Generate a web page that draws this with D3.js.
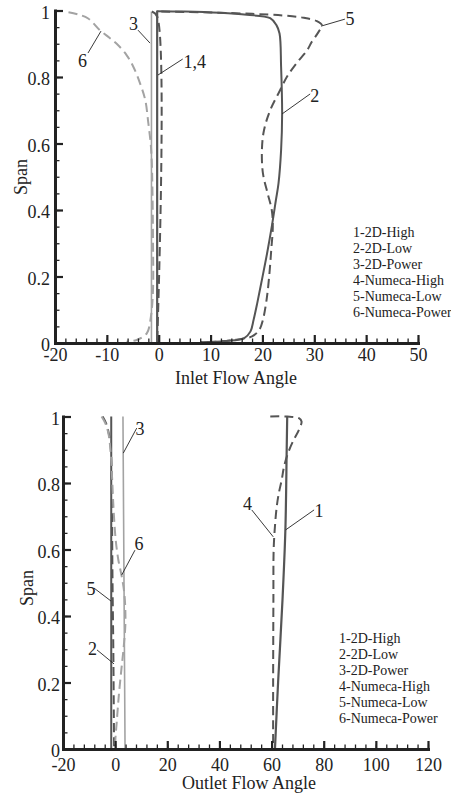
<!DOCTYPE html>
<html><head><meta charset="utf-8">
<script src="https://cdn.jsdelivr.net/npm/d3@7"></script>
<style>
body{margin:0;background:#fff}
svg{display:block}
text{font-family:"Liberation Serif","Times New Roman",serif;fill:#222}
</style>
</head><body>
<svg id="c" width="451" height="793"></svg>
<script>
// ---------- data ----------
const legendLabels = ["1-2D-High","2-2D-Low","3-2D-Power","4-Numeca-High","5-Numeca-Low","6-Numeca-Power"];
const spanTicks = [0,0.2,0.4,0.6,0.8,1];
const inletTicks = [-20,-10,0,10,20,30,40,50];
const outletTicks = [-20,0,20,40,60,80,100,120];
const inletTitle = "Inlet Flow Angle";
const outletTitle = "Outlet Flow Angle";
const spanTitle = "Span";

// Inlet flow angle [angle, span]
const in1 = [[-0.3,0],[-0.3,1.0]];
const in2 = [[-0.3,0.998],[5,0.997],[11.8,0.993],[17,0.987],[21.5,0.977],[22.7,0.956],[23.3,0.931],[23.6,0.831],[23.8,0.69],[23.6,0.58],[23.1,0.48],[22.6,0.43],[21.8,0.35],[20.9,0.27],[19.9,0.19],[19.0,0.12],[18.3,0.07],[17.7,0.035],[16.5,0.015],[13,0.006],[8,0.002]];
const in3 = [[-1.4,0],[-1.4,0.997]];
const in4 = [[-1.3,0.997],[-0.3,0.982],[-0.3,0]];
const in5 = [[0.5,0.997],[10,0.994],[18,0.99],[24,0.985],[28,0.978],[30.5,0.968],[31.5,0.955],[30.8,0.935],[29.5,0.905],[28.6,0.88],[26.5,0.84],[24.7,0.80],[23.4,0.76],[21.5,0.70],[20.3,0.64],[19.9,0.58],[20.1,0.51],[21,0.45],[21.8,0.40],[22,0.35],[21.7,0.28],[21.3,0.2],[20.8,0.13],[20.1,0.07],[19.4,0.04],[18,0.02],[15,0.01],[11,0.004],[8,0.002]];
const in6 = [[-17.4,0.995],[-15.5,0.988],[-13.6,0.976],[-11.3,0.94],[-9.5,0.918],[-8.1,0.90],[-6.2,0.866],[-4.9,0.831],[-3.6,0.781],[-2.6,0.731],[-2.0,0.661],[-1.55,0.60],[-1.35,0.55],[-1.2,0.45],[-1.1,0.3],[-1.1,0.16],[-1.5,0.08],[-2.3,0.029],[-4.25,0.009],[-6.2,0.004]];

// Outlet flow angle [angle, span]
const out1 = [[61.3,0],[62.5,0.2],[64.2,0.45],[65.3,0.66],[65.8,0.9],[66,1.0]];
const out2 = [[-1.5,0],[-1.5,1.0]];
const out3 = [[3.8,0],[3.4,0.5],[3.0,1.0]];
const out4 = [[59.5,1.0],[66,1.0],[70.5,0.995],[71.5,0.985],[70.5,0.96],[68.5,0.93],[66.3,0.89],[64.8,0.85],[63.9,0.81],[62.8,0.77],[62,0.73],[61.3,0.67],[60.8,0.6],[60.7,0.45],[60.6,0.2],[60.6,0]];
const out5 = [[-4.8,1.0],[-3.5,0.98],[-2.6,0.955],[-1.8,0.915],[-1.4,0.85],[-1.2,0.7],[-1.0,0.5],[-0.7,0.3],[-0.5,0.1],[-0.4,0]];
const out6 = [[-5.2,1.0],[-3.8,0.98],[-2.6,0.95],[-1.8,0.9],[-1.2,0.82],[-0.6,0.72],[0.2,0.63],[1.2,0.57],[2.5,0.52],[3.5,0.47],[3.9,0.42],[3.9,0.37],[3.2,0.3],[2.4,0.24],[1.4,0.16],[0.6,0.08],[0.1,0.03],[0,0]];

// annotations: label, text pos [angle, span], leader from, leader to
const inNotes = [
  {t:"3", p:[-4.86,0.941], a:[-4.0,0.941], b:[-1.68,0.902], anchor:"middle"},
  {t:"6", p:[-14.7,0.830], a:[-13.64,0.872], b:[-11.13,0.938], anchor:"middle"},
  {t:"1,4", p:[4.8,0.827], a:[4.63,0.854], b:[-0.14,0.806], anchor:"start"},
  {t:"5", p:[36.9,0.956], a:[35.9,0.974], b:[31.3,0.953], anchor:"middle"},
  {t:"2", p:[30.1,0.725], a:[29.2,0.749], b:[23.8,0.689], anchor:"middle"}
];
const outNotes = [
  {t:"3", p:[9.5,0.944], a:[8.27,0.965], b:[3.13,0.890], anchor:"middle"},
  {t:"6", p:[9.15,0.598], a:[7.6,0.598], b:[2.5,0.523], anchor:"middle"},
  {t:"5", p:[-9.26,0.463], a:[-8.1,0.484], b:[-1.6,0.445], anchor:"middle"},
  {t:"2", p:[-8.68,0.283], a:[-6.96,0.298], b:[-0.44,0.256], anchor:"middle"},
  {t:"4", p:[50.77,0.719], a:[52.4,0.719], b:[60.66,0.638], anchor:"middle"},
  {t:"1", p:[78.2,0.698], a:[76.3,0.719], b:[65.4,0.659], anchor:"middle"}
];

// ---------- styles ----------
const DARK = "#555", LIGHT = "#a3a3a3";
const styles = [
  {c:DARK, w:2.2, d:null},
  {c:DARK, w:2, d:null},
  {c:LIGHT, w:1.6, d:null},
  {c:DARK, w:2, d:"9,5"},
  {c:DARK, w:2, d:"9,5"},
  {c:LIGHT, w:2, d:"9,5"}
];

const svg = d3.select("#c");

function panel(cfg){
  const x = d3.scaleLinear().domain(cfg.xd).range(cfg.xr);
  const y = d3.scaleLinear().domain([0,1]).range(cfg.yr);
  const g = svg.append("g");

  // series
  const line = d3.line().x(d=>x(d[0])).y(d=>y(d[1])).curve(d3.curveCatmullRom.alpha(0.5));
  cfg.series.forEach((s,i)=>{
    const st = styles[i];
    g.append("path").attr("d", line(s)).attr("fill","none")
      .attr("stroke", st.c).attr("stroke-width", st.w)
      .attr("stroke-dasharray", st.d).attr("stroke-linejoin","round");
  });

  // minor ticks
  const mx = g.append("g").attr("transform",`translate(0,${cfg.yr[0]})`)
    .call(d3.axisBottom(x).tickValues(d3.range(cfg.xd[0], cfg.xd[1]+0.001, cfg.xminor)).tickSize(-4.5).tickFormat(""));
  mx.select(".domain").remove();
  mx.selectAll("line").attr("stroke","#222").attr("stroke-width",1.3);
  const my = g.append("g").attr("transform",`translate(${cfg.xr[0]},0)`)
    .call(d3.axisLeft(y).tickValues(d3.range(0,1.0001,0.05)).tickSize(-4.5).tickFormat(""));
  my.select(".domain").remove();
  my.selectAll("line").attr("stroke","#222").attr("stroke-width",1.3);

  // major axes
  const ax = g.append("g").attr("transform",`translate(0,${cfg.yr[0]})`)
    .call(d3.axisBottom(x).tickValues(cfg.xticks).tickSizeInner(-8).tickSizeOuter(0).tickPadding(cfg.xpad).tickFormat(d=>d));
  const ay = g.append("g").attr("transform",`translate(${cfg.xr[0]},0)`)
    .call(d3.axisLeft(y).tickValues(spanTicks).tickSizeInner(-8).tickSizeOuter(0).tickPadding(cfg.ypad).tickFormat(d=>d));
  [ax,ay].forEach(a=>{
    a.attr("font-family",null).attr("font-size",null);
    a.select(".domain").attr("stroke","#222").attr("stroke-width",3).attr("stroke-linecap","square");
    a.selectAll(".tick line").attr("stroke","#222").attr("stroke-width",2.2);
    a.selectAll("text").attr("fill","#222").style("font-size","18px");
  });
  ay.selectAll("text").attr("dy","0.42em");

  // titles
  g.append("text").attr("x", cfg.titleX).attr("y", cfg.titleY).attr("text-anchor","middle")
    .style("font-size","18px").text(cfg.title);
  g.append("text").attr("transform",`translate(${cfg.spanX},${cfg.spanY}) rotate(-90)`)
    .attr("text-anchor","middle").style("font-size","18px").text(spanTitle);

  // legend
  const lg = g.append("g");
  legendLabels.forEach((t,i)=>{
    lg.append("text").attr("x", cfg.legX).attr("y", cfg.legY + i*16).style("font-size","14px").text(t);
  });

  // annotations
  cfg.notes.forEach(n=>{
    g.append("line").attr("x1",x(n.a[0])).attr("y1",y(n.a[1])).attr("x2",x(n.b[0])).attr("y2",y(n.b[1]))
      .attr("stroke","#222").attr("stroke-width",0.9);
    g.append("text").attr("x",x(n.p[0])).attr("y",y(n.p[1])).attr("text-anchor",n.anchor)
      .style("font-size","18px").text(n.t);
  });
}

panel({xd:[-20,50], xr:[55,418], yr:[343,10.5], xticks:inletTicks, xminor:2, xpad:5, ypad:5,
  series:[in1,in2,in3,in4,in5,in6], notes:inNotes,
  title:inletTitle, titleX:236, titleY:384, spanX:27, spanY:177, legX:353, legY:237});
panel({xd:[-20,120], xr:[63,428], yr:[749,416.5], xticks:outletTicks, xminor:4, xpad:9, ypad:3,
  series:[out1,out2,out3,out4,out5,out6], notes:outNotes,
  title:outletTitle, titleX:249, titleY:789, spanX:33, spanY:588, legX:339, legY:643});
</script>
</body></html>
